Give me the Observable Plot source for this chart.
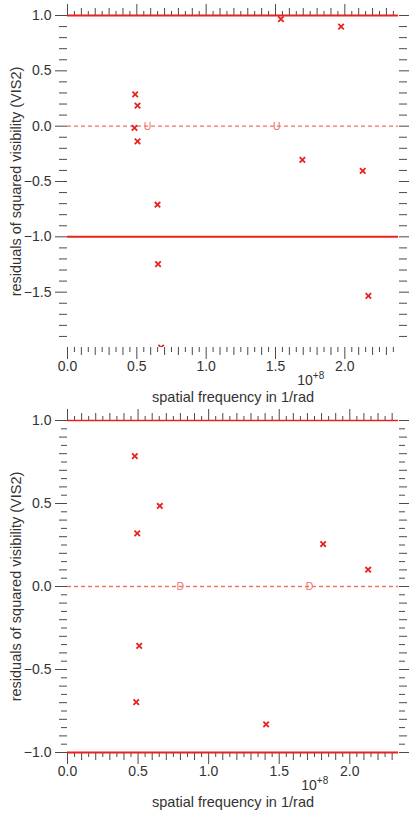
<!DOCTYPE html>
<html><head><meta charset="utf-8">
<script src="https://cdn.jsdelivr.net/npm/d3@7"></script>
<script src="https://cdn.jsdelivr.net/npm/@observablehq/plot@0.6"></script>
<style>body{margin:0;background:#fff;} svg{display:block;} #chart{width:409px;}</style>
</head><body><div id="chart"></div>
<script>
// ---- data ----
const xTickLabels = [0.0, 0.5, 1.0, 1.5, 2.0];
const topYTickLabels = [1.0, 0.5, 0.0, -0.5, -1.0, -1.5];
const botYTickLabels = [1.0, 0.5, 0.0, -0.5, -1.0];
const upperLimit = [1];
const lowerLimit = [-1];
const zeroLine = [0];

// top panel: residuals vs spatial frequency (units of 1e8 /rad)
const topFreq  = [1.539, 1.973, 0.488, 0.505, 0.483, 0.505, 1.694, 2.129, 0.649, 0.653, 2.170, 0.675];
const topResid = [0.967, 0.900, 0.287, 0.185, -0.016, -0.137, -0.305, -0.404, -0.710, -1.247, -1.533, -2.0];
const topLetterFreq = [0.577, 1.510];
const topLetter = "U";

// bottom panel
const botFreq  = [0.477, 0.654, 0.494, 1.811, 2.130, 0.508, 0.487, 1.407];
const botResid = [0.785, 0.485, 0.320, 0.256, 0.101, -0.358, -0.696, -0.831];
const botLetterFreq = [0.800, 1.714];
const botLetter = "D";

const xLabel = "spatial frequency in 1/rad";
const yLabel = "residuals of squared visibility (VIS2)";
const expBase = "10";
const expSup = "+8";

// ---- styling ----
const RED = "#e8221e";
const SALMON = "#f2716b";
const TICK = "#4a4a4a";
const TXT = "#333333";
const FONT = "'Liberation Sans', Arial, Helvetica, sans-serif";
const blank = () => "";

function panel(o) {
  const pts = o.freq.map((x, i) => ({x, y: o.resid[i]}));
  const letters = o.letterFreq.map(x => ({x, y: 0, t: o.letter}));
  const ix = d3.range(0, o.lastXTick + 1);
  const xMajor = ix.filter(i => i % 10 === 0).map(i => i * 0.05);
  const xMid = ix.filter(i => i % 2 === 0 && i % 10 !== 0).map(i => i * 0.05);
  const xSmall = ix.filter(i => i % 2 === 1).map(i => i * 0.05);

  const xt = (ticks, size, anchor) => Plot.axisX({ticks, tickSize: size, anchor, stroke: TICK, strokeWidth: 1,
    tickFormat: blank, label: null});
  const yt = (ticks, size, anchor) => Plot.axisY({ticks, tickSize: size, anchor, stroke: TICK, strokeWidth: 1,
    tickFormat: blank, label: null});

  const marks = [
    xt(xMajor, 12, "top"), xt(xMid, 8, "top"), xt(xSmall, 5, "top"),
    xt(xMid, 8, "bottom"), xt(xSmall, 5, "bottom"),
    yt(o.yMinorA, 8, "left"), yt(o.yMajor, 12, "right"), yt(o.yMinorA, 8, "right"),
    Plot.axisX({ticks: xTickLabels, anchor: "bottom", tickSize: 12, tickPadding: 2, stroke: TICK,
      tickFormat: d3.format(".1f"), fontSize: 14, fill: TXT, label: null}),
    Plot.axisY({ticks: o.yLabels, anchor: "left", tickSize: 12, tickPadding: 4, stroke: TICK,
      tickFormat: d3.format(".1f"), fontSize: 14, fill: TXT, label: null})
  ];
  if (o.yMinorB.length) {
    marks.push(yt(o.yMinorB, 6, "left"), yt(o.yMinorB, 6, "right"));
  }
  marks.push(
    Plot.ruleY(zeroLine, {stroke: SALMON, strokeWidth: 1.3, strokeDasharray: "4,3"}),
    Plot.ruleY(upperLimit, {stroke: RED, strokeWidth: o.upperWidth}),
    Plot.ruleY(lowerLimit, {stroke: RED, strokeWidth: o.lowerWidth}),
    Plot.text(letters, {x: "x", y: "y", text: "t", fill: SALMON, fontSize: 10.5}),
    Plot.dot(pts, {x: "x", y: "y", symbol: "times", r: 2.6, stroke: RED, strokeWidth: 1.8, clip: true}),
    Plot.text([xLabel], {text: d => d, frameAnchor: "bottom", textAnchor: "middle", lineAnchor: "middle",
      dy: 50, fontSize: 14.5, fill: TXT}),
    Plot.text([yLabel], {text: d => d, frameAnchor: "left", textAnchor: "middle", lineAnchor: "middle",
      rotate: -90, dx: -51, fontSize: 14.5, fill: TXT}),
    Plot.text([expBase], {text: d => d, frameAnchor: "bottom-right", textAnchor: "middle", lineAnchor: "middle",
      dx: o.expDx, dy: 33.5, fontSize: 14, fill: TXT}),
    Plot.text([expSup], {text: d => d, frameAnchor: "bottom-right", textAnchor: "middle", lineAnchor: "middle",
      dx: o.expDx + 13.5, dy: 28.5, fontSize: 10, fill: TXT})
  );

  return Plot.plot({
    width: 409, height: o.height,
    marginTop: o.marginTop, marginBottom: o.marginBottom, marginLeft: 67, marginRight: 11,
    x: {domain: [0, o.xMax], axis: null},
    y: {domain: o.yDomain, axis: null},
    style: {fontFamily: FONT, color: TXT, background: "white", overflow: "visible"},
    marks
  });
}

const r2 = v => Math.round(v * 100) / 100;
const topYMinor = d3.range(-19, 10).filter(i => i % 5 !== 0).map(i => r2(i / 10));
const botYMinorA = d3.range(-9, 10).filter(i => i % 5 !== 0).map(i => r2(i / 10));
const botYMinorB = d3.range(-19, 20).filter(i => i % 2 !== 0).map(i => r2(i / 20));

const chart = document.getElementById("chart");
chart.append(panel({
  freq: topFreq, resid: topResid, letterFreq: topLetterFreq, letter: topLetter,
  height: 406, marginTop: 15, marginBottom: 59, xMax: 2.387, lastXTick: 47,
  yDomain: [-2, 1], yLabels: topYTickLabels, yMajor: topYTickLabels, yMinorA: topYMinor, yMinorB: [],
  upperWidth: 2, lowerWidth: 2, expDx: -93.5
}));
chart.append(panel({
  freq: botFreq, resid: botResid, letterFreq: botLetterFreq, letter: botLetter,
  height: 408, marginTop: 14, marginBottom: 62, xMax: 2.345, lastXTick: 46,
  yDomain: [-1, 1], yLabels: botYTickLabels, yMajor: botYTickLabels, yMinorA: botYMinorA, yMinorB: botYMinorB,
  upperWidth: 1.3, lowerWidth: 2, expDx: -89.5
}));
</script></body></html>
